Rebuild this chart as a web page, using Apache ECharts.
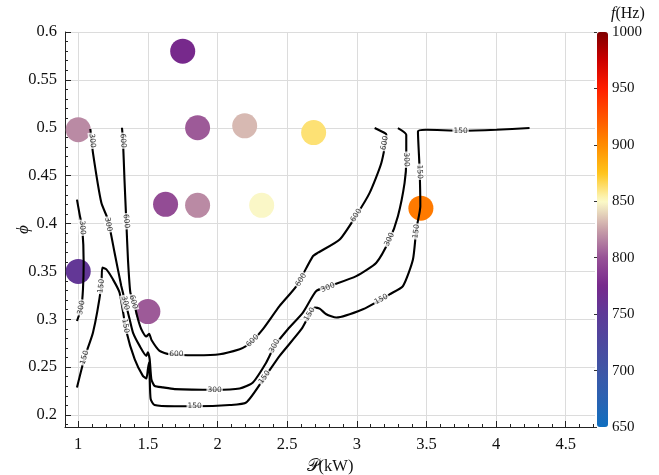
<!DOCTYPE html>
<html>
<head>
<meta charset="utf-8">
<script src="https://cdn.jsdelivr.net/npm/echarts@6/dist/echarts.min.js"></script>
<style>html,body{margin:0;padding:0;background:#fff}#c{width:659px;height:475px}</style>
</head>
<body>
<div id="c"></div>
<script>
// ---- scatter measurements ----
const P_pts   = [1.0,   1.0,  1.5,   1.627, 1.75, 1.857, 1.857, 2.195, 2.317, 2.69,  3.46];
const PHI_pts = [0.498, 0.35, 0.308, 0.42,  0.58, 0.5,   0.419, 0.502, 0.419, 0.495, 0.416];
const F_pts   = [818,   755,  803,   797,   775,  803,   818,   832,   849,   862,   908];

// ---- contour lines [P, phi] ----
const contour600 = [[1.314,0.500],[1.321,0.4875],[1.332,0.446],[1.345,0.4024],[1.357,0.3625],[1.374,0.328],[1.398,0.3177],[1.429,0.300],[1.453,0.2896],[1.489,0.282],[1.509,0.2849],[1.527,0.2781],[1.584,0.267],[1.656,0.2635],[1.848,0.2625],[2.015,0.2635],[2.159,0.2688],[2.207,0.2722],[2.252,0.2774],[2.326,0.2896],[2.446,0.3139],[2.566,0.3347],[2.685,0.3659],[2.721,0.3695],[2.877,0.3833],[2.996,0.4085],[3.092,0.432],[3.176,0.4632],[3.212,0.4927],[3.200,0.4945],[3.128,0.4997]];
const contour300 = [[1.087,0.4987],[1.106,0.4736],[1.166,0.4216],[1.213,0.4042],[1.261,0.3695],[1.309,0.3347],[1.333,0.3208],[1.369,0.300],[1.393,0.2861],[1.441,0.2722],[1.489,0.2618],[1.500,0.2656],[1.513,0.2583],[1.525,0.2375],[1.548,0.2305],[1.608,0.2289],[1.692,0.2271],[1.979,0.2264],[2.159,0.2278],[2.254,0.2341],[2.350,0.2549],[2.410,0.2722],[2.505,0.2896],[2.613,0.307],[2.709,0.3295],[2.805,0.3347],[2.996,0.3451],[3.140,0.3591],[3.235,0.3833],[3.295,0.4076],[3.343,0.4424],[3.355,0.4667],[3.355,0.4927],[3.295,0.4997]];
const contour300b = [[0.991,0.425],[1.010,0.4094],[1.029,0.3955],[1.039,0.3591],[1.034,0.3313],[1.022,0.3122],[0.991,0.2982]];
const contour150 = [[0.991,0.2288],[1.046,0.2601],[1.106,0.2861],[1.166,0.3347],[1.173,0.3539],[1.202,0.3521],[1.249,0.3417],[1.297,0.3278],[1.345,0.2878],[1.405,0.2583],[1.464,0.2409],[1.489,0.2382],[1.500,0.2479],[1.508,0.2549],[1.513,0.2409],[1.520,0.2167],[1.548,0.2104],[1.692,0.2091],[1.836,0.2091],[2.087,0.2104],[2.207,0.2132],[2.338,0.2393],[2.446,0.2618],[2.602,0.2896],[2.661,0.3052],[2.697,0.3122],[2.733,0.3111],[2.781,0.3052],[2.853,0.3018],[3.044,0.3104],[3.176,0.3208],[3.235,0.326],[3.331,0.3347],[3.403,0.3625],[3.427,0.3938],[3.456,0.418],[3.451,0.4563],[3.439,0.4961],[3.499,0.4979],[3.745,0.4969],[4.001,0.4979],[4.240,0.4997]];

// ---- contour labels [P, phi, text, angle] ----
const contourLabels = [
  [1.321,0.4865,'600',-86],[1.345,0.4024,'600',-84],[1.395,0.318,'600',-75],[1.704,0.2635,'600',0],
  [2.252,0.2774,'600',45],[2.600,0.3410,'600',58],[2.996,0.4085,'600',57],[3.200,0.484,'600',80],
  [1.101,0.4865,'300',-84],[1.215,0.399,'300',-79],[1.337,0.317,'300',-76],[1.979,0.2264,'300',0],
  [2.410,0.2722,'300',63],[2.793,0.333,'300',22],[3.235,0.3833,'300',65],[3.355,0.4667,'300',-88],
  [1.029,0.3955,'300',-85],[1.022,0.3122,'300',80],
  [1.046,0.2601,'150',74],[1.166,0.3347,'150',82],[1.338,0.293,'150',-80],[1.836,0.2091,'150',0],
  [2.338,0.2393,'150',54],[2.661,0.3052,'150',58],[3.176,0.3208,'150',29],[3.427,0.3917,'150',82],
  [3.451,0.454,'150',-88],[3.745,0.4969,'150',0]
];

// ---- axes ----
const X_MIN = 0.905, X_MAX = 4.71, Y_MIN = 0.1875, Y_MAX = 0.6;
const xTicks = [1, 1.5, 2, 2.5, 3, 3.5, 4, 4.5];
const yTicks = [0.2, 0.25, 0.3, 0.35, 0.4, 0.45, 0.5, 0.55, 0.6];
const xMinor = []; for (let i = 10; i <= 47; i++) xMinor.push(i / 10);
const yMinor = []; for (let i = 19; i <= 60; i++) yMinor.push(i / 100);
const F_MIN = 650, F_MAX = 1000;
const cmap = ['#0f6fc0','#2b62b2','#3e56a6','#4d479e','#5e3a98','#77298c','#975196','#c8a0a9','#fcfbc8','#ffc41a','#ff8c00','#ff5400','#ff1e00','#cc0000','#7f0000'];

const SERIF = 'Liberation Serif';
const chart = echarts.init(document.getElementById('c'), null, {renderer: 'canvas'});

const lineStyle = {color: '#000', width: 2.1};
function contourSeries(data) {
  return {type: 'line', data: data, showSymbol: false, symbol: 'none', lineStyle: lineStyle,
          smooth: 0.2, z: 3, silent: true, animation: false, xAxisIndex: 0, yAxisIndex: 0};
}

const option = {
  backgroundColor: '#fff',
  animation: false,
  title: {
    text: '{i|f}(Hz)', left: 606, top: 1,
    textStyle: {fontFamily: SERIF, fontSize: 16, fontWeight: 'normal', color: '#111',
      rich: {i: {fontFamily: SERIF, fontStyle: 'italic', fontSize: 16, color: '#111'}}}
  },
  grid: [
    {left: 65, top: 32, right: 64, bottom: 48, outerBoundsMode: 'none', containLabel: false},
    {left: 597, top: 32, width: 11, height: 395, outerBoundsMode: 'none', containLabel: false}
  ],
  xAxis: [
    {type: 'value', gridIndex: 0, min: X_MIN, max: X_MAX,
     name: '𝒫(kW)', nameLocation: 'middle', nameGap: 22,
     nameTextStyle: {fontFamily: SERIF, fontSize: 16.5, color: '#111'},
     axisLine: {show: true, onZero: false, lineStyle: {color: '#222', width: 1}},
     axisTick: {show: true, inside: true, length: 6, customValues: xTicks, lineStyle: {color: '#222'}},
     axisLabel: {show: true, customValues: xTicks, margin: 9, fontFamily: SERIF, fontSize: 16.5, color: '#111'},
     splitLine: {show: true, lineStyle: {color: '#dcdcdc', width: 1}}},
    {type: 'value', gridIndex: 0, min: X_MIN, max: X_MAX, position: 'bottom',
     axisLine: {show: false}, axisLabel: {show: false}, splitLine: {show: false},
     axisTick: {show: true, inside: true, length: 3, customValues: xMinor, lineStyle: {color: '#222'}}},
    {type: 'value', gridIndex: 1, show: false, min: 0, max: 1}
  ],
  yAxis: [
    {type: 'value', gridIndex: 0, min: Y_MIN, max: Y_MAX,
     name: 'ϕ', nameLocation: 'middle', nameGap: 33, nameRotate: 90, nameMoveOverlap: false,
     nameTextStyle: {fontFamily: SERIF, fontStyle: 'italic', fontSize: 17, color: '#111'},
     axisLine: {show: true, onZero: false, lineStyle: {color: '#222', width: 1}},
     axisTick: {show: true, inside: true, length: 6, customValues: yTicks, lineStyle: {color: '#222'}},
     axisLabel: {show: true, customValues: yTicks, margin: 8, fontFamily: SERIF, fontSize: 16.5, color: '#111'},
     splitLine: {show: true, lineStyle: {color: '#dcdcdc', width: 1}}},
    {type: 'value', gridIndex: 0, min: Y_MIN, max: Y_MAX, position: 'left',
     axisLine: {show: false}, axisLabel: {show: false}, splitLine: {show: false},
     axisTick: {show: true, inside: true, length: 3, customValues: yMinor, lineStyle: {color: '#222'}}},
    {type: 'value', gridIndex: 1, min: F_MIN, max: F_MAX, interval: 50, position: 'right', z: 10,
     axisLine: {show: false}, splitLine: {show: false},
     axisTick: {show: true, inside: true, length: 3, lineStyle: {color: '#333'}},
     axisLabel: {show: true, margin: 4, fontFamily: SERIF, fontSize: 15, color: '#111',
       formatter: v => String(v)}}
  ],
  visualMap: {
    type: 'continuous', min: F_MIN, max: F_MAX, dimension: 2, seriesIndex: 0,
    orient: 'vertical', left: 597, top: 32, itemWidth: 11, itemHeight: 395,
    padding: 0, calculable: false, hoverLink: false, realtime: false,
    text: null, showLabel: false,
    inRange: {color: cmap}
  },
  series: [
    {type: 'scatter', xAxisIndex: 0, yAxisIndex: 0, symbolSize: 25, z: 2,
     data: P_pts.map((p, i) => [p, PHI_pts[i], F_pts[i]]),
     itemStyle: {opacity: 1}},
    contourSeries(contour600),
    contourSeries(contour300),
    contourSeries(contour300b),
    contourSeries(contour150),
    {type: 'scatter', xAxisIndex: 0, yAxisIndex: 0, symbolSize: 0, z: 5, silent: true,
     data: contourLabels.map(l => ({value: [l[0], l[1]],
       label: {show: true, position: 'inside', formatter: l[2], rotate: l[3]}})),
     label: {show: true, position: 'inside', fontFamily: 'DejaVu Sans', fontSize: 7.5, color: '#000',
       backgroundColor: '#fff', padding: [0, 1], align: 'center', verticalAlign: 'middle'}}
  ]
};
chart.setOption(option);
</script>
</body>
</html>
